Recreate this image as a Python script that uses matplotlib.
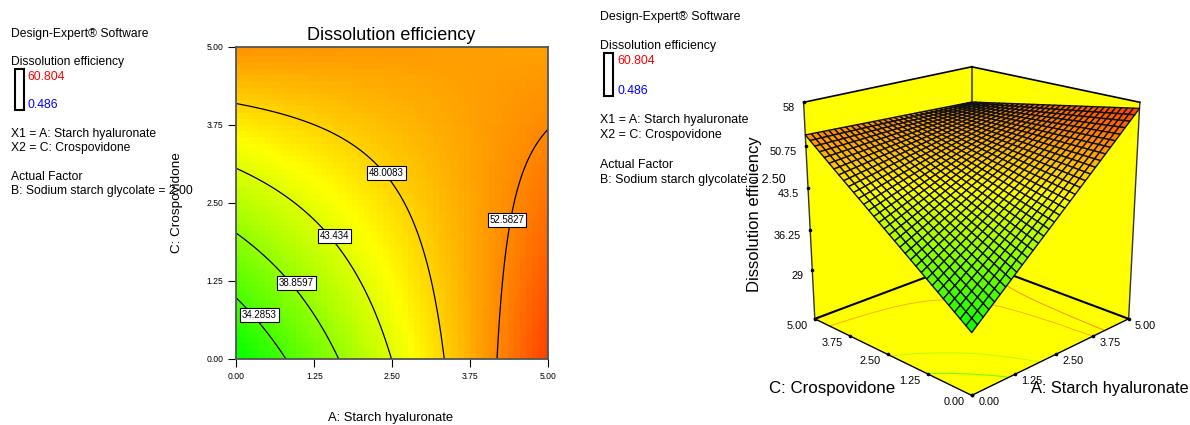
import numpy as np
import matplotlib
matplotlib.use("Agg")
import matplotlib.pyplot as plt
from matplotlib.colors import LinearSegmentedColormap, Normalize
from matplotlib.patches import Rectangle
from mpl_toolkits.mplot3d import proj3d
from mpl_toolkits.mplot3d.art3d import Poly3DCollection

plt.rcParams['font.family'] = ['Liberation Sans', 'DejaVu Sans']

W, H = 1190, 425

# at the tick positions (rows = crospovidone, cols = starch hyaluronate)
factor_ticks = [0.0, 1.25, 2.5, 3.75, 5.0]
contour_table = [
    [30.0, 36.75, 43.5, 50.25, 57.0],
    [35.5, 40.5, 45.5, 50.5, 55.5],
    [41.0, 44.25, 47.5, 50.75, 54.0],
    [46.5, 48.0, 49.5, 51.0, 52.5],
    [52.0, 51.75, 51.5, 51.25, 51.0],
]
surface_table = [
    [30.3, 37.0, 43.65, 50.3, 57.0],
    [35.9, 40.8, 45.7, 50.65, 55.6],
    [41.45, 44.65, 47.85, 51.0, 54.2],
    [47.0, 48.5, 49.95, 51.35, 52.8],
    [52.6, 52.3, 52.0, 51.7, 51.4],
]
contour_levels = [34.2853, 38.8597, 43.434, 48.0083, 52.5827]
contour_labels = ["34.2853", "38.8597", "43.434", "48.0083", "52.5827"]
label_a = [0.37, 0.96, 1.57, 2.41, 4.34]
label_c = [0.71, 1.22, 1.97, 2.98, 2.23]
floor_levels = [36.0, 41.0, 45.4, 50.2, 52.4]
z_ticks = [58, 50.75, 43.5, 36.25, 29]
z_labels = ["58", "50.75", "43.5", "36.25", "29"]
z_floor = 20.0
z_top = 58.0
tick_labels = ["0.00", "1.25", "2.50", "3.75", "5.00"]
design_max = "60.804"
design_min = "0.486"

cmap = LinearSegmentedColormap.from_list("de", ["#00ff00", "#ffff00", "#ff0000"])
norm = Normalize(30.0, 60.8)


def refine(table, n):
    # the picture's mesh is finer than what can be read, so fill it in between the ticks
    fine = np.linspace(0, 5, n + 1)
    rows = np.array([np.interp(fine, factor_ticks, r) for r in table])
    z = np.array([np.interp(fine, factor_ticks, c) for c in rows.T]).T
    a, c = np.meshgrid(fine, fine)
    return a, c, z


def put(x, y, s, **kw):
    kw.setdefault('va', 'center')
    fig.text(x / W, 1 - y / H, s, **kw)


def side_text(x, rows, box, size):
    for y, s, col, dx in rows:
        put(x + dx, y, s, color=col, fontsize=size)
    x0, y0, x1, y1 = box
    fig.add_artist(Rectangle((x0 / W, 1 - y1 / H), (x1 - x0) / W, (y1 - y0) / H, fc='white',
                             ec='black', lw=1.5, transform=fig.transFigure))


fig = plt.figure(figsize=(W / 100, H / 100), dpi=100)

# left panel, contour plot
ax = fig.add_axes([236.5 / W, 1 - 359 / H, 311.5 / W, 312 / H])
a, c, z = refine(contour_table, 50)
ax.pcolormesh(a, c, z, cmap=cmap, norm=norm, shading='nearest')
a, c, z = refine(contour_table, 200)
ax.contour(a, c, z, levels=contour_levels, colors='black', linewidths=0.9)
for xa, xc, s in zip(label_a, label_c, contour_labels):
    ax.text(xa, xc, s, fontsize=7, ha='center', va='center',
            bbox=dict(boxstyle='square,pad=0.2', fc='white', ec='black', lw=0.8))
ax.set_xlim(0, 5)
ax.set_ylim(0, 5)
ax.set_xticks(factor_ticks, tick_labels)
ax.set_yticks(factor_ticks, tick_labels)
ax.tick_params(length=5.8, width=0.8, labelsize=6.2, pad=3.5)
for sp in ax.spines.values():
    sp.set_color('#555555')
    sp.set_linewidth(1.3)

put(391, 35, "Dissolution efficiency", fontsize=13, ha='center')
put(391, 418, "A: Starch hyaluronate", fontsize=9.4, ha='center')
put(177, 203, "C: Crospovidone", fontsize=9.7, ha='center', rotation=90)
side_text(11, [(34, "Design-Expert® Software", 'black', 0),
               (62, "Dissolution efficiency", 'black', 0),
               (77, design_max, 'red', 16),
               (105, design_min, 'blue', 16),
               (134, "X1 = A: Starch hyaluronate", 'black', 0),
               (148, "X2 = C: Crospovidone", 'black', 0),
               (177, "Actual Factor", 'black', 0),
               (191, "B: Sodium starch glycolate = 2.00", 'black', 0)],
          (15, 69, 24, 110), 8.7)

# right panel, 3D surface
side = 386
ax3 = fig.add_axes([(966.5 - side / 2) / W, 1 - (219.5 + side / 2) / H, side / W, side / H],
                   projection='3d', computed_zorder=False)
ax3.set_proj_type('persp', focal_length=0.536)
ax3.view_init(elev=19.6, azim=-135)
ax3.set_box_aspect((1, 1, 1))
ax3.set_xlim(0, 5, view_margin=0)
ax3.set_ylim(0, 5, view_margin=0)
ax3.set_zlim(z_floor, z_top, view_margin=0)
ax3.set_axis_off()

walls = [
    [(0, 0, z_floor), (5, 0, z_floor), (5, 5, z_floor), (0, 5, z_floor)],
    [(5, 0, z_floor), (5, 5, z_floor), (5, 5, z_top), (5, 0, z_top)],
    [(0, 5, z_floor), (5, 5, z_floor), (5, 5, z_top), (0, 5, z_top)],
]
ax3.add_collection3d(Poly3DCollection(walls, facecolors='#ffff00', edgecolors='none', zorder=1))

a, c, z = refine(surface_table, 200)
ax3.contour(a, c, z, levels=floor_levels, zdir='z', offset=z_floor, cmap=cmap, norm=norm,
            linewidths=0.7, zorder=2)


def edge(p, q, col='black', lw=1.2, zo=2.5):
    ax3.plot([p[0], q[0]], [p[1], q[1]], [p[2], q[2]], color=col, lw=lw, zorder=zo)


edge((0, 5, z_floor), (5, 5, z_floor), lw=1.5)
edge((5, 0, z_floor), (5, 5, z_floor), lw=1.5)
edge((5, 5, z_floor), (5, 5, z_top), col='#666600', lw=1.5)
edge((0, 5, z_floor), (0, 0, z_floor), lw=1.0)
edge((5, 0, z_floor), (0, 0, z_floor), lw=1.0)
edge((0, 5, z_floor), (0, 5, z_top), col='#333333', lw=1.0)
edge((5, 0, z_floor), (5, 0, z_top), col='#333333', lw=1.0)
edge((0, 5, z_top), (5, 5, z_top))
edge((5, 0, z_top), (5, 5, z_top))

a, c, z = refine(surface_table, 32)
mid = (z[:-1, :-1] + z[1:, 1:]) / 2
ax3.plot_surface(a, c, z, rstride=1, cstride=1, facecolors=cmap(norm(mid)), shade=False,
                 edgecolor='#111111', linewidth=1.0, antialiased=True, zorder=3)


def tick_text(p, s, off, ha='center'):
    ax3.plot([p[0]], [p[1]], [p[2]], marker='o', ms=1.6, color='black', zorder=4)
    x2, y2, _ = proj3d.proj_transform(p[0], p[1], p[2], ax3.get_proj())
    ax3.annotate(s, (x2, y2), xytext=off, textcoords='offset pixels', fontsize=7.8,
                 ha=ha, va='center', zorder=5)


for v, s in zip(z_ticks, z_labels):
    tick_text((0, 5, v), s, (-9, -6), ha='right')
for v, s in zip(factor_ticks, tick_labels):
    tick_text((v, 0, z_floor), s, (17, -7))
    tick_text((0, v, z_floor), s, (-18, -7))

put(832, 388, "C: Crospovidone", fontsize=12.2, ha='center')
put(1110, 388, "A: Starch hyaluronate", fontsize=11.8, ha='center')
put(754, 214, "Dissolution efficiency", fontsize=12, ha='center', rotation=90)
side_text(600, [(17, "Design-Expert® Software", 'black', 0),
                (46, "Dissolution efficiency", 'black', 0),
                (61, design_max, 'red', 17),
                (91, design_min, 'blue', 17),
                (120, "X1 = A: Starch hyaluronate", 'black', 0),
                (135, "X2 = C: Crospovidone", 'black', 0),
                (165, "Actual Factor", 'black', 0),
                (180, "B: Sodium starch glycolate = 2.50", 'black', 0)],
          (604, 53, 613, 96), 8.9)

fig.savefig("out.png", dpi=100)
